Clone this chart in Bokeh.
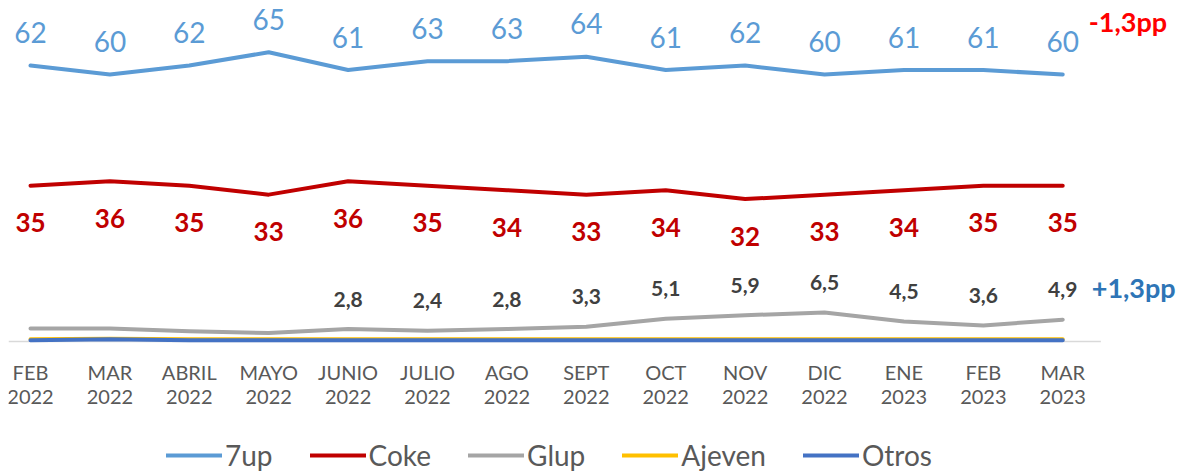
from bokeh.plotting import figure
from bokeh.models import ColumnDataSource, Legend, LegendItem, Range1d
from bokeh.core.properties import value
from bokeh.embed import file_html
from bokeh.resources import INLINE

months = ["FEB", "MAR", "ABRIL", "MAYO", "JUNIO", "JULIO", "AGO", "SEPT", "OCT", "NOV",
          "DIC", "ENE", "FEB", "MAR"]
years = ["2022", "2022", "2022", "2022", "2022", "2022", "2022", "2022", "2022", "2022",
         "2022", "2023", "2023", "2023"]
sevenup = [62, 60, 62, 65, 61, 63, 63, 64, 61, 62, 60, 61, 61, 60]
coke = [35, 36, 35, 33, 36, 35, 34, 33, 34, 32, 33, 34, 35, 35]
glup = [2.9, 2.9, 2.3, 1.9, 2.8, 2.4, 2.8, 3.3, 5.1, 5.9, 6.5, 4.5, 3.6, 4.9]
ajeven = [0.5, 0.6, 0.5, 0.5, 0.5, 0.5, 0.5, 0.5, 0.5, 0.5, 0.5, 0.5, 0.5, 0.5]
otros = [0.3, 0.5, 0.3, 0.3, 0.3, 0.3, 0.3, 0.3, 0.3, 0.3, 0.3, 0.3, 0.3, 0.3]
glup_labelled = [False, False, False, False] + [True] * 10
delta_7up = ["-1,3pp"]
delta_glup = ["+1,3pp"]

FONT = "Lato"
idx = list(range(len(months)))

def fmt(v):
    return f"{v:.1f}".replace(".", ",")

src = ColumnDataSource(dict(
    x=idx, sevenup=sevenup, coke=coke, glup=glup, ajeven=ajeven, otros=otros,
    base=[0] * len(idx), months=months, years=years,
    s_lab=[str(v) for v in sevenup],
    c_lab=[str(v) for v in coke],
    g_lab=[fmt(v) if show else "" for v, show in zip(glup, glup_labelled)],
))

x_start = -0.277
x_end = 14.458
p = figure(frame_width=1170, frame_height=464, output_backend="svg", toolbar_location=None,
           x_range=Range1d(x_start, x_end), y_range=Range1d(-29.44, 74.83),
           x_axis_location=None, y_axis_location=None,
           min_border_left=8, min_border_top=8, min_border_right=0, min_border_bottom=0)
p.outline_line_color = None
p.xgrid.visible = False
p.ygrid.visible = False

# category axis: baseline plus two-line labels (month / year) under each category
p.segment(x0=[x_start], x1=[idx[-1] + 0.48], y0=[0], y1=[0], line_color="#D9D9D9", line_width=1.5)
p.text("x", "base", text="months", source=src, text_align="center", text_baseline="middle",
       y_offset=31, text_font=value(FONT), text_font_size="20px", text_color="#595959")
p.text("x", "base", text="years", source=src, text_align="center", text_baseline="middle",
       y_offset=56, text_font=value(FONT), text_font_size="20px", text_color="#595959")

colors = {"7up": "#5B9BD5", "Coke": "#C00000", "Glup": "#A5A5A5", "Ajeven": "#FFC000", "Otros": "#4472C4"}
r_g = p.line("x", "glup", source=src, line_color=colors["Glup"], line_width=4, line_cap="round", line_join="round")
r_a = p.line("x", "ajeven", source=src, line_color=colors["Ajeven"], line_width=4, line_cap="round", line_join="round")
r_o = p.line("x", "otros", source=src, line_color=colors["Otros"], line_width=4, line_cap="round", line_join="round")
r_c = p.line("x", "coke", source=src, line_color=colors["Coke"], line_width=4, line_cap="round", line_join="round")
r_s = p.line("x", "sevenup", source=src, line_color=colors["7up"], line_width=4, line_cap="round", line_join="round")

p.text("x", "sevenup", text="s_lab", source=src, text_align="center", text_baseline="middle",
       y_offset=-33, text_font=value(FONT), text_font_size="28px", text_color="#5B9BD5")
p.text("x", "coke", text="c_lab", source=src, text_align="center", text_baseline="middle",
       y_offset=37, text_font=value(FONT), text_font_size="26px", text_font_style="bold",
       text_color="#C00000")
p.text("x", "glup", text="g_lab", source=src, text_align="center", text_baseline="middle",
       y_offset=-30, text_font=value(FONT), text_font_size="21px", text_font_style="bold",
       text_color="#404040")

p.text(x=[idx[-1]], y=[sevenup[-1]], text=delta_7up, x_offset=26, y_offset=-53,
       text_align="left", text_baseline="middle", text_font=value(FONT),
       text_font_size="27px", text_font_style="bold", text_color="#FF0000")
p.text(x=[idx[-1]], y=[glup[-1]], text=delta_glup, x_offset=29, y_offset=-32,
       text_align="left", text_baseline="middle", text_font=value(FONT),
       text_font_size="27px", text_font_style="bold", text_color="#2E75B6")

legend = Legend(items=[
    LegendItem(label="7up", renderers=[r_s]),
    LegendItem(label="Coke", renderers=[r_c]),
    LegendItem(label="Glup", renderers=[r_g]),
    LegendItem(label="Ajeven", renderers=[r_a]),
    LegendItem(label="Otros", renderers=[r_o]),
], orientation="horizontal", location=(158, 0))
legend.border_line_color = None
legend.background_fill_alpha = 0
legend.label_text_font = FONT
legend.label_text_font_size = "28px"
legend.label_text_color = "#595959"
legend.glyph_width = 56
legend.label_standoff = 3
legend.spacing = 37
legend.padding = 0
legend.margin = 0
p.add_layout(legend)

open("out.html", "w").write(file_html(p, INLINE))
